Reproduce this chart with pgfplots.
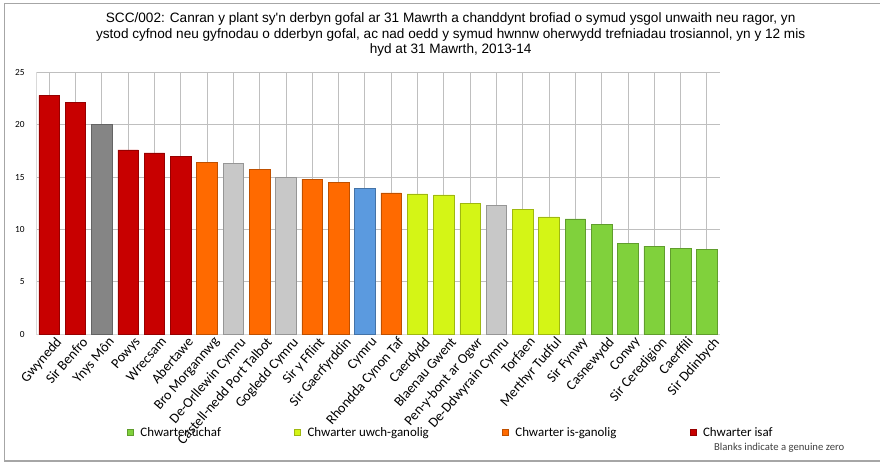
\documentclass[border=0pt]{standalone}
\usepackage{pgfplots}
\pgfplotsset{compat=1.18}
\usepackage{fontspec}
\setmainfont{Carlito}
\newfontfamily\titlefont{Liberation Sans}

\definecolor{isaf}{HTML}{C80000}
\definecolor{isgan}{HTML}{FF6A00}
\definecolor{uwch}{HTML}{D4F516}
\definecolor{uchaf}{HTML}{80D13C}
\definecolor{llwyd}{HTML}{C8C8C8}
\definecolor{llwydtywyll}{HTML}{858585}
\definecolor{glas}{HTML}{5B9ADF}
\definecolor{grid}{HTML}{D9D9D9}

\begin{document}
\begin{tikzpicture}
\useasboundingbox (0,0) rectangle (660pt,346.5pt);
% frame round the chart
\draw[gray!70, line width=0.8pt] (660pt,343.9pt) -- (3.4pt,343.9pt) -- (3.4pt,0.75pt) -- (660pt,0.75pt);

\node[font=\titlefont\fontsize{10.2}{11.6}\selectfont, align=center] at (338pt,320.5pt)
  {SCC/002: Canran y plant sy'n derbyn gofal ar 31 Mawrth a chanddynt brofiad o symud ysgol unwaith neu ragor, yn\\
   ystod cyfnod neu gyfnodau o dderbyn gofal, ac nad oedd y symud hwnnw oherwydd trefniadau trosiannol, yn y 12 mis\\
   hyd at 31 Mawrth, 2013-14};

\begin{axis}[
  at={(27pt,95.8pt)}, anchor=south west,
  scale only axis, width=513pt, height=196.5pt,
  ybar, bar width=0.78, bar shift=0pt,
  xmin=-0.5, xmax=25.5, ymin=0, ymax=25,
  ytick={0,5,...,25},
  ymajorgrids, grid style={grid, line width=0.6pt},
  axis x line*=bottom, axis y line*=left,
  axis line style={grid, line width=0.6pt, -},
  major tick length=0pt,
  xtick={0,...,25},
  xticklabels={Gwynedd, Sir Benfro, Ynys Môn, Powys, Wrecsam, Abertawe, Bro Morgannwg,
    De-Orllewin Cymru, Castell-nedd Port Talbot, Gogledd Cymru, Sir y Fflint, Sir Gaerfyrddin,
    Cymru, Rhondda Cynon Taf, Caerdydd, Blaenau Gwent, Pen-y-bont ar Ogwr, De-Ddwyrain Cymru,
    Torfaen, Merthyr Tudful, Sir Fynwy, Casnewydd, Conwy, Sir Ceredigion, Caerffili, Sir Ddinbych},
  xticklabel style={font=\fontsize{10.5}{11}\selectfont, rotate=49, anchor=north east, inner sep=1pt, xshift=3pt, yshift=-3pt},
  yticklabel style={font=\fontsize{7}{8}\selectfont, xshift=-5pt},
  /pgf/number format/assume math mode=true,
  legend columns=4,
  legend style={at={(0.133,-0.375)}, anchor=west, draw=none, fill=none, inner sep=0pt,
    font=\fontsize{9.7}{11}\selectfont,
    /tikz/every odd column/.append style={column sep=3pt},
    /tikz/every even column/.append style={column sep=53pt}},
  legend image code/.code={\fill[#1] (0pt,-2pt) rectangle (4.5pt,2.5pt);},
]
\addplot[fill=uchaf, draw=uchaf!75!black] coordinates {(20,11.0) (21,10.5) (22,8.7) (23,8.4) (24,8.2) (25,8.1)};
\addplot[fill=uwch, draw=uwch!75!black] coordinates {(14,13.4) (15,13.3) (16,12.5) (18,11.9) (19,11.2)};
\addplot[fill=isgan, draw=isgan!75!black] coordinates {(6,16.4) (8,15.7) (10,14.8) (11,14.5) (13,13.5)};
\addplot[fill=isaf, draw=isaf!75!black] coordinates {(0,22.8) (1,22.1) (3,17.6) (4,17.3) (5,17.0)};
\addplot[fill=llwydtywyll, draw=llwydtywyll!75!black, forget plot] coordinates {(2,20.0)};
\addplot[fill=llwyd, draw=llwyd!75!black, forget plot] coordinates {(7,16.3) (9,15.0) (17,12.3)};
\addplot[fill=glas, draw=glas!75!black, forget plot] coordinates {(12,13.9)};
\legend{Chwarter uchaf, Chwarter uwch-ganolig, Chwarter is-ganolig, Chwarter isaf}
\end{axis}

\node[anchor=west, font=\fontsize{8}{9}\selectfont, text=black!75] at (532pt,10.5pt) {Blanks indicate a genuine zero};
\end{tikzpicture}
\end{document}
